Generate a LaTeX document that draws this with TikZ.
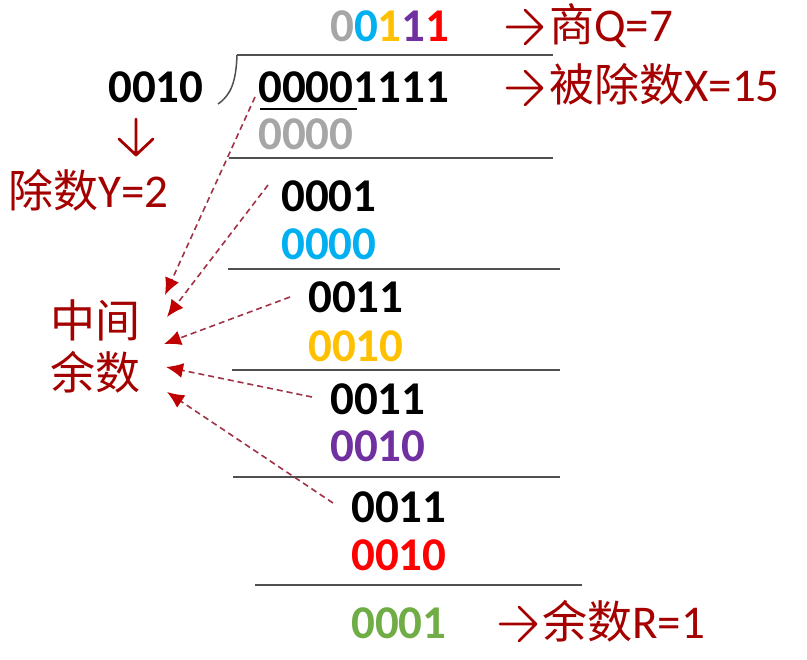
\documentclass[tikz,border=0pt]{standalone}
\usepackage{fontspec}
\setmainfont{Carlito}
\newfontfamily\cjk{Noto Sans CJK SC}
\usetikzlibrary{arrows.meta}
\definecolor{qgray}{RGB}{166,166,166}
\definecolor{qcyan}{RGB}{0,176,240}
\definecolor{qyellow}{RGB}{255,192,0}
\definecolor{qpurple}{RGB}{112,48,160}
\definecolor{qred}{RGB}{255,0,0}
\definecolor{qgreen}{RGB}{112,173,71}
\definecolor{lbl}{RGB}{165,0,0}
\definecolor{dashc}{RGB}{160,50,70}
\definecolor{tipc}{RGB}{192,0,0}
\definecolor{rulec}{RGB}{80,80,80}
\tikzset{
  dig/.style={inner sep=0pt, anchor=base west, font=\fontsize{47}{47}\selectfont\bfseries},
  lab/.style={inner sep=0pt, anchor=base west, text=lbl, font=\fontsize{47}{47}\selectfont},
  cjklab/.style={inner sep=0pt, text=lbl, font=\fontsize{45}{45}\selectfont\cjk},
  rulel/.style={draw=rulec, line width=1.5pt},
  glypharrow/.style={draw=lbl, line width=2.8pt, line cap=round, line join=round},
  remarrow/.style={draw=dashc, line width=1.6pt, dash pattern=on 6pt off 4pt,
    -{Latex[length=17pt,width=15pt,color=tipc]}},
}
\newcommand{\zh}[1]{{\fontsize{45}{45}\selectfont\cjk #1}}
\begin{document}
\begin{tikzpicture}[x=1pt,y=-1pt]
\useasboundingbox (0,0) rectangle (807,660);
% quotient and dividend
\node[dig] (q) at (330,42) {\textcolor{qgray}{0}\textcolor{qcyan}{0}\textcolor{qyellow}{1}\textcolor{qpurple}{1}\textcolor{qred}{1}};
\node[dig] (dvs) at (108,103) {0010};
\node[dig] (dvd) at (258,103) {00001111};
\node[dig, text=qgray] (s0) at (258,150) {0000};
\node[dig] (r1) at (281,212) {0001};
\node[dig, text=qcyan] (s1) at (281,260) {0000};
\node[dig] (r2) at (308,313) {0011};
\node[dig, text=qyellow] (s2) at (308,362) {0010};
\node[dig] (r3) at (330,415) {0011};
\node[dig, text=qpurple] (s3) at (330,462) {0010};
\node[dig] (r4) at (351,523) {0011};
\node[dig, text=qred] (s4) at (351,570) {0010};
\node[dig, text=qgreen] (rem) at (351,638) {0001};
% rules
\draw[rulel] (237,55) -- (553,55);
\draw[rulel] (237,55) .. controls (236,82) and (231,95) .. (218,104);
\draw[black, line width=2pt] (260,109) -- (357,109);
\draw[rulel] (229,158) -- (553,158);
\draw[rulel] (228,269) -- (560,269);
\draw[rulel] (232,370) -- (560,370);
\draw[rulel] (233,477) -- (560,477);
\draw[rulel] (255,585) -- (582,585);
% right labels
\node[lab] (lq) at (549,42) {\zh{商}Q=7};
\node[lab] (lx) at (549,102) {\zh{被除数}X=15};
\node[lab] (lr) at (542,638) {\zh{余数}R=1};
\node[lab] (ly) at (8,208) {\zh{除数}Y=2};
\node[cjklab] (m1) at (95,320) {中间};
\node[cjklab] (m2) at (95,372) {余数};
% glyph arrows
\coordinate (aq0) at (507,27); \coordinate (aq1) at (542,27);
\draw[glypharrow] (aq0) -- (aq1) (525,10) -- (aq1) -- (525,44);
\coordinate (ax0) at (507,88); \coordinate (ax1) at (542,88);
\draw[glypharrow] (ax0) -- (ax1) (525,71) -- (ax1) -- (525,105);
\coordinate (ar0) at (500,624); \coordinate (ar1) at (536,624);
\draw[glypharrow] (ar0) -- (ar1) (519,607) -- (ar1) -- (519,641);
\coordinate (ay0) at (136,119); \coordinate (ay1) at (136,155);
\draw[glypharrow] (ay0) -- (ay1) (119,139) -- (ay1) -- (153,139);
% dashed arrows to intermediate remainders
\coordinate (st1) at (255,97);  \coordinate (tp1) at (165,295);
\coordinate (st2) at (268,185); \coordinate (tp2) at (167,317);
\coordinate (st3) at (290,297); \coordinate (tp3) at (164,344);
\coordinate (st4) at (312,397); \coordinate (tp4) at (166,367);
\coordinate (st5) at (333,503); \coordinate (tp5) at (167,392);
\draw[remarrow] (st1) -- (tp1);
\draw[remarrow] (st2) -- (tp2);
\draw[remarrow] (st3) -- (tp3);
\draw[remarrow] (st4) -- (tp4);
\draw[remarrow] (st5) -- (tp5);
\end{tikzpicture}
\end{document}
